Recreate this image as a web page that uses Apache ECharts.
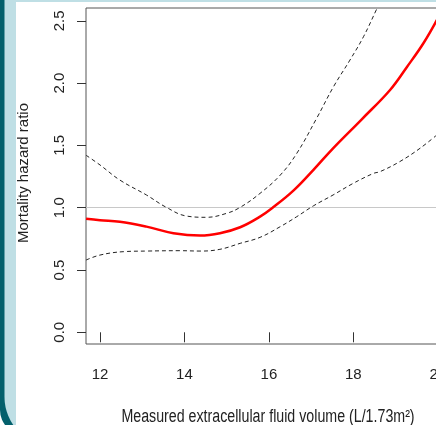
<!DOCTYPE html>
<html>
<head>
<meta charset="utf-8">
<script src="https://cdn.jsdelivr.net/npm/echarts@6/dist/echarts.min.js"></script>
<style>
html,body{margin:0;padding:0;background:#fff;}
#chart{width:436px;height:425px;}
</style>
</head>
<body>
<div id="chart"></div>
<script>
// ---- data ----
const estX   = [11.67, 12.0, 12.47, 13.1, 13.74, 14.37, 14.84, 15.32, 15.79, 16.1, 16.58, 17.05, 17.52, 18.2, 18.87, 19.27, 19.66, 20.0];
const estY   = [0.912, 0.900, 0.888, 0.848, 0.795, 0.776, 0.795, 0.843, 0.928, 1.003, 1.137, 1.302, 1.477, 1.71, 1.945, 2.13, 2.32, 2.52];
const upperX = [11.67, 12.0, 12.47, 13.1, 13.57, 14.05, 14.52, 15.0, 15.32, 15.79, 16.27, 16.66, 17.13, 17.53, 17.92, 18.24, 18.55, 18.7];
const upperY = [1.421, 1.343, 1.222, 1.102, 1.003, 0.933, 0.923, 0.955, 1.003, 1.115, 1.262, 1.436, 1.717, 1.971, 2.185, 2.372, 2.592, 2.70];
const lowerX = [11.67, 12.0, 12.55, 13.1, 13.9, 14.37, 14.84, 15.32, 15.79, 16.27, 16.66, 17.05, 17.52, 18.0, 18.48, 18.63, 19.1, 19.58, 20.0];
const lowerY = [0.580, 0.620, 0.647, 0.652, 0.655, 0.652, 0.666, 0.714, 0.762, 0.848, 0.928, 1.014, 1.102, 1.196, 1.276, 1.289, 1.37, 1.477, 1.59];
const xTicks = [12, 14, 16, 18, 20];
const yTicks = [0.0, 0.5, 1.0, 1.5, 2.0, 2.5];
const refValue = 1.0;
const xTitle = 'Measured extracellular fluid volume (L/1.73m²)';
const yTitle = 'Mortality hazard ratio';

const pairs = (xs, ys) => xs.map((x, i) => [x, ys[i]]);
const sans = '"Liberation Sans", Arial, Helvetica, sans-serif';

const chart = echarts.init(document.getElementById('chart'), null, {renderer: 'canvas'});
chart.setOption({
  animation: false,
  backgroundColor: '#ffffff',
  graphic: {
    elements: [
      {type: 'rect', z: -20, silent: true, shape: {x: 0, y: -100, width: 1000, height: 535, r: 25}, style: {fill: '#03606c'}},
      {type: 'rect', z: -19, silent: true, shape: {x: 4.5, y: -100, width: 1000, height: 546, r: 49}, style: {fill: '#bfdfe5'}},
      {type: 'rect', z: -18, silent: true, shape: {x: 16, y: 2, width: 1000, height: 1000}, style: {fill: '#ffffff'}},
      {type: 'text', z: 10, x: 268, y: 417, scaleX: 0.79, style: {text: xTitle, fontFamily: sans, fontSize: 18, fill: '#222', align: 'center', verticalAlign: 'middle'}},
      {type: 'text', z: 10, x: 24, y: 173, rotation: Math.PI / 2, style: {text: yTitle, fontFamily: sans, fontSize: 15, fill: '#222', align: 'center', verticalAlign: 'middle'}}
    ]
  },
  grid: {left: 86, top: 8, width: 360, height: 336, outerBoundsMode: 'none', containLabel: false, show: true, borderColor: '#555', borderWidth: 1, backgroundColor: 'transparent'},
  xAxis: {
    type: 'value', min: 11.668, max: 20.195,
    axisLine: {show: false},
    axisTick: {show: true, length: 10, customValues: xTicks, lineStyle: {color: '#333', width: 1}},
    axisLabel: {customValues: xTicks, margin: 23, fontFamily: sans, fontSize: 15, color: '#222', formatter: v => String(v)},
    splitLine: {show: false}
  },
  yAxis: {
    type: 'value', min: -0.094, max: 2.603,
    axisLine: {show: false},
    axisTick: {show: true, length: 9, customValues: yTicks, lineStyle: {color: '#333', width: 1}},
    axisLabel: {customValues: yTicks, rotate: 90, margin: 19, fontFamily: sans, fontSize: 15, color: '#222', formatter: v => Number(v).toFixed(1)},
    splitLine: {show: false}
  },
  series: [
    {
      type: 'line', data: pairs(lowerX, lowerY), smooth: 0.4, symbol: 'none', clip: true, z: 3,
      lineStyle: {color: '#222', width: 1, type: [4, 3]},
      markLine: {silent: true, symbol: 'none', label: {show: false}, lineStyle: {color: '#c8c8c8', width: 1, type: 'solid'}, data: [{yAxis: refValue}], z: 1}
    },
    {
      type: 'line', data: pairs(upperX, upperY), smooth: 0.4, symbol: 'none', clip: true, z: 3,
      lineStyle: {color: '#222', width: 1, type: [4, 3]}
    },
    {
      type: 'line', data: pairs(estX, estY), smooth: 0.4, symbol: 'none', clip: true, z: 4,
      lineStyle: {color: '#ff0000', width: 2.5}
    }
  ]
});
</script>
</body>
</html>
